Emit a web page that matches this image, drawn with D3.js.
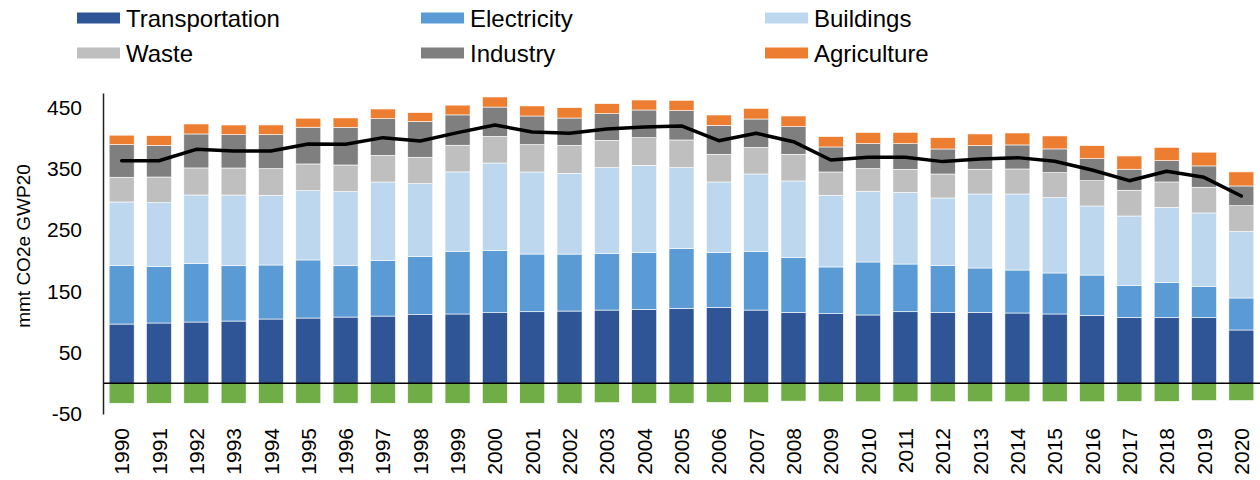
<!DOCTYPE html>
<html>
<head>
<meta charset="utf-8">
<script src="https://cdn.jsdelivr.net/npm/d3@7"></script>
<style>
  body { margin: 0; background: #fff; }
  svg text { font-family: "Liberation Sans", Arial, sans-serif; fill: #000; }
</style>
</head>
<body>
<script>
// emissions by sector, mmt CO2e GWP20
var years = d3.range(1990, 2021).map(String);

var transportation = [96.7, 98.4, 100.0, 101.6, 104.9, 106.5, 108.1, 109.7, 112.0, 113.1, 115.2, 116.8, 117.9, 119.5, 120.7, 122.4, 124.0, 119.5, 115.8, 113.6, 111.5, 116.8, 115.8, 115.8, 114.7, 113.1, 110.9, 107.6, 107.1, 107.1, 87.0];
var electricity = [95.2, 92.4, 95.7, 90.2, 88.1, 94.7, 83.7, 90.9, 94.7, 102.3, 101.7, 94.1, 92.9, 92.4, 92.9, 97.8, 89.6, 95.8, 89.1, 76.2, 86.4, 77.8, 76.7, 72.3, 70.1, 66.9, 65.7, 52.2, 57.6, 50.6, 52.2];
var buildings = [103.9, 103.8, 111.5, 115.3, 113.7, 113.1, 120.8, 127.7, 119.0, 129.4, 142.4, 133.8, 131.7, 139.8, 141.9, 131.6, 114.8, 126.1, 125.1, 116.9, 115.4, 116.9, 109.8, 120.7, 124.0, 122.9, 112.6, 113.1, 122.3, 120.2, 108.2];
var waste = [40.3, 41.9, 44.1, 44.1, 43.5, 43.5, 43.5, 43.5, 43.0, 43.5, 43.5, 44.6, 45.6, 44.6, 45.2, 45.1, 45.2, 43.5, 43.6, 38.0, 36.9, 37.6, 39.1, 40.4, 40.8, 40.8, 41.3, 42.0, 41.4, 41.9, 42.4];
var industry = [53.3, 51.7, 55.4, 54.3, 55.4, 59.9, 61.5, 59.8, 58.2, 49.5, 47.8, 46.7, 44.6, 43.5, 45.1, 47.8, 47.2, 46.2, 45.0, 40.8, 40.8, 41.8, 40.8, 38.5, 39.2, 38.6, 35.9, 34.3, 34.8, 34.8, 32.1];
var agriculture = [15.3, 15.8, 16.3, 15.8, 15.8, 14.7, 15.2, 15.8, 14.7, 15.9, 16.4, 16.4, 16.9, 16.3, 16.3, 16.9, 16.8, 17.4, 17.4, 16.9, 18.0, 18.5, 18.5, 19.0, 19.5, 21.2, 21.2, 21.6, 21.7, 22.4, 22.9];
// land sink (negative)
var sink = [-32.5, -32.5, -32.5, -32.5, -32.5, -32.5, -32.5, -32.5, -32.5, -32.5, -32.5, -32.5, -32.5, -31.5, -32.5, -32.5, -31.0, -31.5, -29.0, -30.0, -30.0, -30.0, -30.0, -30.0, -30.0, -30.0, -30.0, -29.5, -29.5, -28.0, -28.0];
// net line
var net = [363, 363, 381.6, 379, 379, 390.4, 389.8, 400.7, 395.2, 408.9, 421.3, 409.9, 407.8, 414.9, 418.1, 419.7, 395.7, 407.8, 394.1, 364.3, 368.7, 368.7, 361.6, 365.9, 368.1, 362.1, 347.9, 330.5, 345.8, 336.0, 305.5];

var sectors = ["Transportation", "Electricity", "Buildings", "Waste", "Industry", "Agriculture"];
var colors = ["#2F5597", "#5B9BD5", "#BDD7EE", "#BFBFBF", "#7F7F7F", "#ED7D31"];
var yTicks = [-50, 50, 150, 250, 350, 450];

var width = 1260, height = 480;

// build rows for d3.stack
var rows = years.map(function(y, i) {
  return {
    year: y,
    Transportation: transportation[i],
    Electricity: electricity[i],
    Buildings: buildings[i],
    Waste: waste[i],
    Industry: industry[i],
    Agriculture: agriculture[i],
    sink: sink[i],
    net: net[i]
  };
});

var svg = d3.select("body").append("svg")
    .attr("width", width)
    .attr("height", height);

var x = d3.scaleBand()
    .domain(years)
    .range([103, 1260])
    .paddingInner(0.33)
    .paddingOuter(0.165);

var y = d3.scaleLinear()
    .domain([-50, 473.5])
    .range([414, 93]);

var color = d3.scaleOrdinal().domain(sectors).range(colors);

var stacked = d3.stack().keys(sectors)(rows);

// stacked bars
svg.append("g").selectAll("g")
    .data(stacked)
  .enter().append("g")
    .attr("fill", function(d) { return color(d.key); })
  .selectAll("rect")
    .data(function(d) { return d; })
  .enter().append("rect")
    .attr("x", function(d) { return x(d.data.year); })
    .attr("width", x.bandwidth())
    .attr("y", function(d) { return y(d[1]); })
    .attr("height", function(d) { return y(d[0]) - y(d[1]); })
    .style("stroke", "#fff")
    .style("stroke-width", 0.6);

// negative sink bars
svg.append("g").selectAll("rect")
    .data(rows)
  .enter().append("rect")
    .attr("x", function(d) { return x(d.year); })
    .attr("width", x.bandwidth())
    .attr("y", y(0))
    .attr("height", function(d) { return y(d.sink) - y(0); })
    .attr("fill", "#70AD47")
    .style("stroke", "#fff")
    .style("stroke-width", 0.6);

// zero line
svg.append("line")
    .attr("x1", 103).attr("x2", 1260)
    .attr("y1", y(0)).attr("y2", y(0))
    .style("stroke", "#000")
    .style("stroke-width", 1.5);

// net line
var line = d3.line()
    .x(function(d) { return x(d.year) + x.bandwidth() / 2; })
    .y(function(d) { return y(d.net); });

svg.append("path")
    .datum(rows)
    .attr("d", line)
    .attr("fill", "none")
    .style("stroke", "#000")
    .style("stroke-width", 3.5)
    .style("stroke-linejoin", "round")
    .style("stroke-linecap", "round");

// y axis (plain hyphen for -50, like the original)
var yAxis = svg.append("g")
    .attr("transform", "translate(103,0)")
    .call(d3.axisLeft(y).tickValues(yTicks).tickFormat(function(d) { return String(d); })
      .tickSize(0).tickSizeOuter(0).tickPadding(21));
yAxis.select(".domain").style("stroke", "#222").style("stroke-width", 1.5);
yAxis.selectAll("text").style("font-size", "21px");

svg.append("text")
    .attr("transform", "translate(30,246) rotate(-90)")
    .attr("text-anchor", "middle")
    .style("font-size", "19px")
    .text("mmt CO2e GWP20");

// x axis (rotated year labels)
var xAxis = svg.append("g")
    .attr("transform", "translate(0,428)")
    .call(d3.axisBottom(x).tickSize(0));
xAxis.select(".domain").remove();
xAxis.selectAll("text")
    .attr("transform", "rotate(-90)")
    .attr("x", 0)
    .attr("y", 0)
    .attr("dy", "0.36em")
    .style("text-anchor", "end")
    .style("font-size", "21px");

// legend, 3 columns x 2 rows
var legend = svg.append("g").selectAll("g")
    .data(sectors)
  .enter().append("g")
    .attr("transform", function(d, i) {
      return "translate(" + (77 + (i % 3) * 344) + "," + (18 + Math.floor(i / 3) * 35) + ")";
    });

legend.append("rect")
    .attr("x", 0)
    .attr("y", -5.5)
    .attr("width", 43)
    .attr("height", 11)
    .attr("fill", function(d) { return color(d); });

legend.append("text")
    .attr("x", 49)
    .attr("y", 8.5)
    .style("font-size", "24px")
    .text(function(d) { return d; });
</script>
</body>
</html>
